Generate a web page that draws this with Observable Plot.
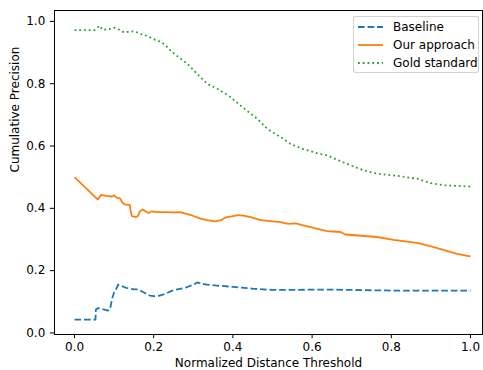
<!DOCTYPE html>
<html>
<head>
<meta charset="utf-8">
<script src="https://cdn.jsdelivr.net/npm/d3@7"></script>
<script src="https://cdn.jsdelivr.net/npm/@observablehq/plot@0.6"></script>
<style>
  html, body { margin: 0; padding: 0; background: white; }
  #wrap { position: relative; width: 483px; height: 370px; font-family: "DejaVu Sans", sans-serif; }
  #legend { position: absolute; left: 353px; top: 16px; width: 126px; height: 57px;
    border: 1px solid rgba(204,204,204,0.9); border-radius: 3px; background: rgba(255,255,255,0.8);
    font-size: 12px; color: #000; box-sizing: border-box; }
  .row { position: absolute; left: 0; height: 18px; display: flex; align-items: center; }
  .row svg { margin-left: 4px; }
  .row span { margin-left: 10px; line-height: 12px; }
</style>
</head>
<body>
<div id="wrap"></div>
<script>
// ---- data ----
const baselineX = [0, 0.053, 0.054, 0.06, 0.07, 0.085, 0.09, 0.095, 0.1, 0.105, 0.11, 0.12, 0.13, 0.15, 0.16, 0.175, 0.19, 0.2, 0.215, 0.23, 0.245, 0.26, 0.28, 0.3, 0.31, 0.32, 0.335, 0.36, 0.4, 0.45, 0.5, 0.55, 0.6, 0.65, 0.7, 0.75, 0.8, 0.9, 1.0];
const baselineY = [0.043, 0.043, 0.075, 0.08, 0.077, 0.072, 0.078, 0.11, 0.13, 0.14, 0.155, 0.15, 0.145, 0.14, 0.14, 0.13, 0.12, 0.118, 0.12, 0.126, 0.135, 0.14, 0.145, 0.155, 0.162, 0.158, 0.155, 0.152, 0.148, 0.142, 0.138, 0.138, 0.139, 0.139, 0.138, 0.137, 0.136, 0.136, 0.136];

const oursX = [0, 0.059, 0.067, 0.08, 0.095, 0.1, 0.105, 0.115, 0.12, 0.126, 0.14, 0.142, 0.145, 0.155, 0.16, 0.165, 0.172, 0.18, 0.187, 0.195, 0.21, 0.23, 0.25, 0.268, 0.28, 0.297, 0.318, 0.335, 0.356, 0.37, 0.38, 0.4, 0.415, 0.43, 0.445, 0.47, 0.52, 0.54, 0.558, 0.596, 0.638, 0.672, 0.684, 0.764, 0.806, 0.869, 0.912, 0.966, 1.0];
const oursY = [0.5, 0.428, 0.443, 0.44, 0.438, 0.442, 0.435, 0.432, 0.42, 0.413, 0.41, 0.39, 0.375, 0.372, 0.375, 0.39, 0.396, 0.39, 0.385, 0.39, 0.388, 0.388, 0.387, 0.388, 0.383, 0.377, 0.367, 0.362, 0.358, 0.362, 0.37, 0.375, 0.378, 0.376, 0.372, 0.362, 0.356, 0.35, 0.352, 0.34, 0.327, 0.324, 0.316, 0.308, 0.299, 0.288, 0.274, 0.254, 0.246];

const goldX = [0, 0.051, 0.058, 0.064, 0.068, 0.072, 0.088, 0.1, 0.112, 0.125, 0.14, 0.152, 0.167, 0.182, 0.2, 0.217, 0.228, 0.242, 0.263, 0.285, 0.301, 0.322, 0.335, 0.36, 0.381, 0.394, 0.419, 0.44, 0.461, 0.487, 0.52, 0.545, 0.575, 0.613, 0.638, 0.667, 0.697, 0.73, 0.764, 0.823, 0.865, 0.899, 0.933, 1.0];
const goldY = [0.972, 0.972, 0.98, 0.986, 0.978, 0.973, 0.975, 0.98, 0.974, 0.965, 0.967, 0.968, 0.96, 0.954, 0.943, 0.935, 0.926, 0.907, 0.885, 0.864, 0.843, 0.816, 0.8, 0.784, 0.768, 0.757, 0.73, 0.709, 0.688, 0.655, 0.629, 0.607, 0.591, 0.577, 0.57, 0.554, 0.538, 0.522, 0.511, 0.503, 0.495, 0.481, 0.474, 0.47];

const seriesNames = ["Baseline", "Our approach", "Gold standard"];
const seriesColors = ["#1f77b4", "#ff7f0e", "#2ca02c"];
const seriesDash = ["6.66,2.88", null, "1.8,2.97"];
const xTicks = [0, 0.2, 0.4, 0.6, 0.8, 1.0];
const yTicks = [0, 0.2, 0.4, 0.6, 0.8, 1.0];
const xLabel = "Normalized Distance Threshold";
const yLabel = "Cumulative Precision";

const toRows = (xs, ys) => xs.map((x, i) => ({x, y: ys[i]}));
const series = [toRows(baselineX, baselineY), toRows(oursX, oursY), toRows(goldX, goldY)];

const chart = Plot.plot({
  width: 483, height: 370,
  marginLeft: 54, marginRight: 1, marginTop: 10, marginBottom: 36,
  x: {domain: [-0.0505, 1.0303]},
  y: {domain: [-0.005, 1.035]},
  style: {fontFamily: "DejaVu Sans", fontSize: "12px", color: "black", background: "white"},
  marks: [
    ...series.map((d, i) => Plot.line(d, {x: "x", y: "y", stroke: seriesColors[i], strokeWidth: 1.8,
      strokeDasharray: seriesDash[i] ?? undefined, strokeLinecap: "butt", strokeLinejoin: "round"})),
    Plot.frame({stroke: "black", strokeWidth: 1}),
    Plot.axisX({ticks: xTicks, tickFormat: d => d.toFixed(1), tickSize: 4.2, tickPadding: 4, label: null, fontSize: 12}),
    Plot.axisY({ticks: yTicks, tickFormat: d => d.toFixed(1), tickSize: 4.2, tickPadding: 5, label: null, fontSize: 12}),
    Plot.text([xLabel], {frameAnchor: "bottom", lineAnchor: "middle", dy: 29, text: d => d, fontSize: 12}),
    Plot.text([yLabel], {frameAnchor: "left", lineAnchor: "middle", dx: -39, rotate: -90, text: d => d, fontSize: 12})
  ]
});
const wrap = document.getElementById("wrap");
wrap.appendChild(chart);

// legend
const legend = document.createElement("div");
legend.id = "legend";
seriesNames.forEach((name, i) => {
  const row = document.createElement("div");
  row.className = "row";
  row.style.top = (1 + i * 18) + "px";
  const dash = seriesDash[i] ? `stroke-dasharray="${seriesDash[i]}"` : "";
  row.innerHTML = `<svg width="25" height="6"><line x1="0" y1="3" x2="25" y2="3" stroke="${seriesColors[i]}" stroke-width="1.8" ${dash}/></svg><span>${name}</span>`;
  legend.appendChild(row);
});
wrap.appendChild(legend);
</script>
</body>
</html>
